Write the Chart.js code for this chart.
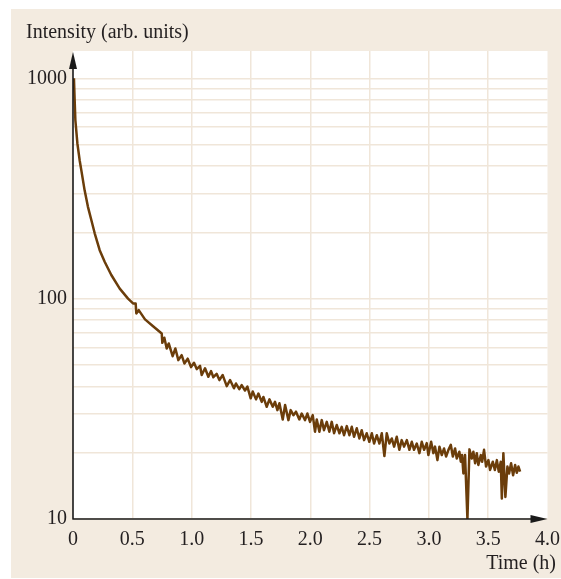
<!DOCTYPE html>
<html>
<head>
<meta charset="utf-8">
<script src="https://cdn.jsdelivr.net/npm/chart.js@4.4.1/dist/chart.umd.min.js"></script>
<style>
  html, body { margin: 0; padding: 0; background: #fff; }
</style>
</head>
<body>
<canvas id="c" width="561" height="579"></canvas>
<script>
// lectura del gráfico: tiempo (h) e intensidad (u. arb.)
const timeH = [
  0.008, 0.014, 0.020, 0.037, 0.056, 0.070, 0.098, 0.126, 0.155, 0.183,
  0.225, 0.267, 0.323, 0.394, 0.464, 0.506, 0.528, 0.534, 0.554, 0.607,
  0.675, 0.748,
  0.753, 0.770, 0.790, 0.807, 0.840, 0.863, 0.888, 0.916, 0.939, 0.967,
  0.995, 1.020, 1.043, 1.071, 1.085, 1.113, 1.141, 1.164, 1.183, 1.211,
  1.234, 1.262, 1.296, 1.324,
  1.357, 1.374, 1.402, 1.422, 1.450, 1.470, 1.498, 1.515, 1.543, 1.563,
  1.591, 1.605, 1.633, 1.656, 1.684, 1.703, 1.723, 1.740, 1.768, 1.788,
  1.816, 1.835, 1.858, 1.880, 1.908, 1.928, 1.956, 1.976, 1.998, 2.021,
  2.040, 2.055, 2.077, 2.097, 2.116, 2.139,
  2.161, 2.181, 2.201, 2.223, 2.246, 2.265, 2.285, 2.308, 2.330, 2.350,
  2.369, 2.392, 2.414, 2.434, 2.454, 2.476, 2.498, 2.519, 2.538, 2.561,
  2.583, 2.603, 2.625, 2.645, 2.667, 2.687, 2.707, 2.729, 2.751, 2.771,
  2.791, 2.814, 2.836, 2.856, 2.875, 2.898, 2.920, 2.940, 2.960, 2.982,
  2.996,
  3.019, 3.038, 3.052, 3.072, 3.089, 3.109, 3.128, 3.145, 3.165, 3.185,
  3.202, 3.221, 3.235, 3.257, 3.269, 3.280, 3.291, 3.305, 3.325, 3.342,
  3.362, 3.375, 3.390, 3.404, 3.417, 3.438, 3.449, 3.465, 3.482, 3.502,
  3.516, 3.539, 3.556, 3.573, 3.589, 3.606, 3.615, 3.628, 3.645, 3.662,
  3.676, 3.693, 3.710, 3.727, 3.741, 3.755, 3.769
];
const intensity = [
  1000, 794, 645, 506, 425, 383, 310, 261, 227, 198,
  166, 147, 128, 111, 100, 95.1, 95.1, 85.7, 88.7, 80.5,
  75, 69.5,
  63, 66.5, 59.4, 62.6, 54.8, 59.4, 52.6, 55.4, 50.8, 53.4,
  48.9, 51.2, 47.9, 49.5, 45.0, 48.3, 44.2, 46.9, 44.0, 45.6,
  42.7, 45.0, 40.1, 42.7,
  39.2, 41.2, 38.8, 40.5, 38.3, 39.9, 35.3, 37.9, 34.9, 37.1,
  34.0, 35.8, 32.3, 34.9, 32.3, 34.0, 31.2, 33.5, 28.3, 32.9,
  28.1, 31.2, 29.6, 30.7, 28.3, 30.1, 28.1, 30.1, 27.6, 29.6,
  24.9, 28.3, 24.9, 28.1, 25.3, 27.6,
  24.9, 27.6, 24.5, 26.7, 24.5, 26.2, 24.0, 26.4, 24.0, 26.2,
  23.6, 25.8, 23.2, 25.3, 22.8, 24.5, 22.4, 24.5, 22.0, 24.0,
  22.0, 24.5, 19.3, 24.5, 22.0, 23.2, 21.3, 23.6, 20.6, 22.8,
  21.3, 22.8, 20.6, 22.4, 20.6, 22.0, 19.9, 22.4, 20.6, 22.1,
  19.5,
  22.4, 19.9, 21.3, 18.5, 21.3, 19.5, 20.9, 19.2, 20.6, 21.7,
  19.2, 20.9, 18.8, 20.2, 18.2, 19.5, 16.1, 19.5, 10, 20.7,
  18.8, 20.2, 17.9, 19.9, 17.6, 19.5, 18.2, 20.6, 17.3, 18.5,
  16.7, 18.2, 16.7, 18.5, 16.4, 18.2, 12.4, 19.9, 12.6, 17.3,
  16.1, 17.9, 15.8, 17.6, 16.2, 17.3, 16.4
];

const xTicks    = [0, 0.5, 1, 1.5, 2, 2.5, 3, 3.5, 4];
const yGrid     = [10, 20, 30, 40, 50, 60, 70, 80, 90,
                   100, 200, 300, 400, 500, 600, 700, 800, 900, 1000];
const yLabelled = [10, 100, 1000];
const yTitle = 'Intensity (arb. units)';
const xTitle = 'Time (h)';

const serif     = '"Liberation Serif", "Times New Roman", serif';
const textColor = '#231f20';
const gridColor = '#f0e6d9';
const panelColor = '#f3ebe0';
const lineColor = '#6b3d0a';

// fondo beige + área blanca, ejes con flechas y títulos
const decor = {
  id: 'decor',
  beforeDraw(chart) {
    const { ctx, chartArea: ca } = chart;
    ctx.save();
    ctx.fillStyle = panelColor;
    ctx.fillRect(11, 9, chart.width - 11, chart.height - 10);
    ctx.fillStyle = '#ffffff';
    ctx.fillRect(ca.left, ca.top, ca.right - ca.left, ca.bottom - ca.top);
    ctx.restore();
  },
  afterDraw(chart) {
    const { ctx, chartArea: ca } = chart;
    const x0 = chart.scales.x.getPixelForValue(0);
    const y0 = chart.scales.y.getPixelForValue(10);
    ctx.save();
    ctx.strokeStyle = '#1a1a1a';
    ctx.fillStyle = '#1a1a1a';
    ctx.lineWidth = 1.6;
    ctx.beginPath();
    ctx.moveTo(x0, y0 + 0.5);
    ctx.lineTo(x0, ca.top + 12);
    ctx.moveTo(x0 - 0.5, y0);
    ctx.lineTo(ca.right - 12, y0);
    ctx.stroke();
    // flecha vertical
    ctx.beginPath();
    ctx.moveTo(x0, ca.top + 1);
    ctx.lineTo(x0 - 4, ca.top + 18);
    ctx.lineTo(x0 + 4, ca.top + 18);
    ctx.closePath();
    ctx.fill();
    // flecha horizontal
    ctx.beginPath();
    ctx.moveTo(ca.right, y0);
    ctx.lineTo(ca.right - 17, y0 - 4);
    ctx.lineTo(ca.right - 17, y0 + 4);
    ctx.closePath();
    ctx.fill();

    ctx.fillStyle = textColor;
    ctx.font = '20px ' + serif;
    ctx.textBaseline = 'alphabetic';
    ctx.textAlign = 'left';
    ctx.fillText(yTitle, 26, 38);
    ctx.textAlign = 'right';
    ctx.fillText(xTitle, 556, 569);
    ctx.restore();
  }
};

const points = timeH.map((t, i) => ({ x: t, y: intensity[i] }));

new Chart(document.getElementById('c'), {
  type: 'line',
  data: {
    datasets: [{
      data: points,
      borderColor: lineColor,
      borderWidth: 2.5,
      borderJoinStyle: 'round',
      pointRadius: 0,
      tension: 0,
      fill: false
    }]
  },
  options: {
    responsive: false,
    animation: false,
    events: [],
    layout: { padding: { left: 13, top: 51, right: 13.5, bottom: 20 } },
    plugins: { legend: { display: false }, tooltip: { enabled: false } },
    scales: {
      x: {
        type: 'linear',
        min: 0,
        max: 4,
        afterBuildTicks: s => { s.ticks = xTicks.map(v => ({ value: v })); },
        afterFit: s => { s.height = 40; s.paddingLeft = 0; s.paddingRight = 0; },
        border: { display: false },
        grid: {
          color: c => (c.tick && (c.tick.value === 0 || c.tick.value === 4)) ? 'rgba(0,0,0,0)' : gridColor,
          lineWidth: 1.5,
          drawTicks: false
        },
        ticks: {
          padding: 9,
          maxRotation: 0,
          autoSkip: false,
          color: textColor,
          font: { family: serif, size: 20 },
          callback: v => v === 0 ? '0' : Number(v).toFixed(1)
        }
      },
      y: {
        type: 'logarithmic',
        min: 10,
        max: 1330,
        afterBuildTicks: s => { s.ticks = yGrid.map(v => ({ value: v })); },
        afterFit: s => { s.width = 60; s.paddingTop = 0; s.paddingBottom = 0; },
        border: { display: false },
        grid: {
          color: gridColor,
          lineWidth: 1.5,
          drawTicks: false
        },
        ticks: {
          padding: 6,
          autoSkip: false,
          color: textColor,
          font: { family: serif, size: 20 },
          callback: v => yLabelled.includes(v) ? String(v) : ''
        }
      }
    }
  },
  plugins: [decor]
});
</script>
</body>
</html>
